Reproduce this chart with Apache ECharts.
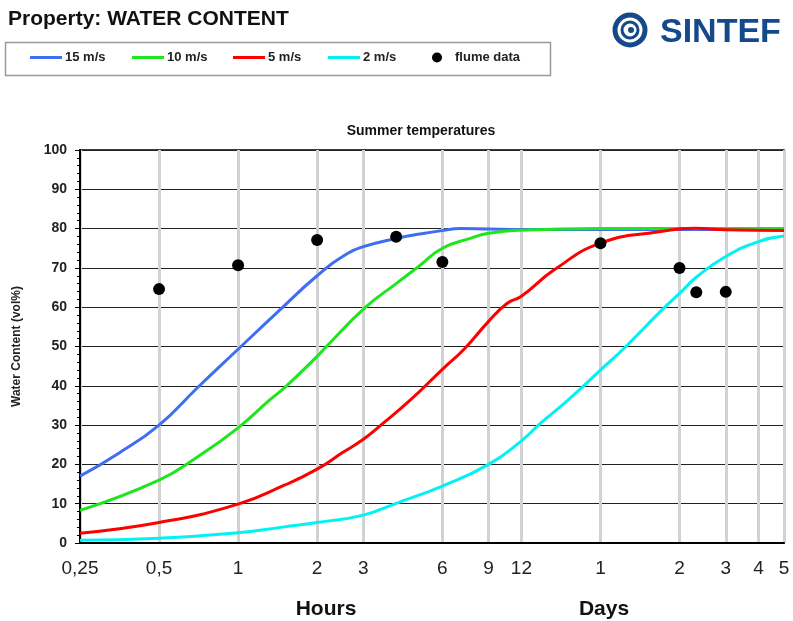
<!DOCTYPE html>
<html>
<head>
<meta charset="utf-8">
<script src="https://cdn.jsdelivr.net/npm/echarts@6/dist/echarts.min.js"></script>
<style>
  html, body { margin: 0; padding: 0; background: #fff; }
  #chart { width: 793px; height: 621px; }
</style>
</head>
<body>
<div id="chart"></div>
<script>
// x values are in hours, plotted on a log2 scale
let tickHours = [0.25, 0.5, 1, 2, 3, 6, 9, 12, 24, 48, 72, 96, 120];
let tickLabels = ['0,25', '0,5', '1', '2', '3', '6', '9', '12', '1', '2', '3', '4', '5'];

let hours15 = [0.25, 0.35, 0.5, 0.7, 1, 1.4, 2, 2.6, 3, 4, 5, 6, 7, 9, 12, 24, 48, 120];
let vals15 = [17, 22.8, 30, 39.5, 49.3, 58.5, 68, 73.6, 75.4, 77.5, 78.7, 79.5, 80, 79.9, 79.8, 79.8, 79.8, 79.8];

let hours10 = [0.25, 0.5, 0.7, 1, 1.32, 1.53, 2, 2.17, 3.06, 4, 4.9, 6, 7.66, 9, 12, 24, 120];
let vals10 = [8.3, 16, 21.9, 29.3, 36.4, 40, 47.5, 50, 60, 66, 70.5, 75, 77.5, 78.8, 79.6, 80, 80];

let hours5 = [0.25, 0.5, 1, 1.5, 2, 2.5, 3, 3.5, 4.5, 6, 7.3, 9, 10.6, 12, 16, 24, 40, 55, 72, 120];
let vals5 = [2.5, 5.2, 9.9, 14.7, 18.8, 23, 26.4, 30, 36.2, 44.2, 49.5, 56.4, 61, 62.8, 69.5, 76.3, 79.2, 80.1, 79.7, 79.5];

let hours2 = [0.25, 0.5, 1, 1.5, 2, 3, 4, 6, 9, 12, 14.2, 18, 24, 30, 40, 48, 56, 72, 96, 120];
let vals2 = [0.7, 1.2, 2.6, 4.1, 5.2, 7.1, 10.1, 14.5, 20, 26, 30.5, 36.3, 44, 50, 58.5, 63.5, 67.8, 72.9, 76.7, 78.1];

let flumeHours = [0.5, 1, 2, 4, 6, 24, 48, 55.6, 72];
let flumeVals = [64.6, 70.7, 77.1, 77.9, 71.5, 76.3, 70, 63.8, 63.9];

let font = 'Liberation Sans, Arial, sans-serif';
let colors = ['#3f6ef2', '#1ee61e', '#ff0000', '#00f2f2', '#000000'];

function toXY(hs, vs) {
    return hs.map((h, i) => [Math.log2(h), vs[i]]);
}
let tickPos = tickHours.map(h => Math.log2(h));

let myChart = echarts.init(document.getElementById('chart'), null, {renderer: 'canvas'});

function lineSeries(name, hs, vs, color) {
    return {
        name: name,
        type: 'line',
        data: toXY(hs, vs),
        smooth: 0.5,
        symbol: 'none',
        lineStyle: {color: color, width: 3},
        itemStyle: {color: color}
    };
}

function legendItem(name, left, icon) {
    let isDot = icon === 'circle';
    return {
        data: [name],
        left: left,
        top: 51,
        padding: 0,
        icon: icon,
        itemWidth: isDot ? 10 : 32,
        itemHeight: isDot ? 10 : 3,
        textStyle: {
            fontFamily: font, fontWeight: 'bold', fontSize: 13, color: '#222',
            padding: [0, 0, 0, isDot ? 8 : -2]
        }
    };
}

let option = {
    animation: false,
    backgroundColor: '#fff',
    color: colors,
    grid: {
        left: 80, right: 9, top: 150, bottom: 78,
        show: true, borderColor: '#000', borderWidth: 1.5
    },
    legend: [
        legendItem('15 m/s', 30, 'rect'),
        legendItem('10 m/s', 132, 'rect'),
        legendItem('5 m/s', 233, 'rect'),
        legendItem('2 m/s', 328, 'rect'),
        legendItem('flume data', 432, 'circle')
    ],
    xAxis: {
        type: 'value',
        min: Math.log2(0.25),
        max: Math.log2(120),
        axisLine: {show: true, onZero: false, lineStyle: {color: '#000', width: 2}},
        axisTick: {show: false, customValues: tickPos},
        axisLabel: {
            customValues: tickPos,
            margin: 16,
            fontFamily: font, fontSize: 19, color: '#222',
            formatter: function (v) {
                for (let i = 0; i < tickPos.length; i++) {
                    if (Math.abs(tickPos[i] - v) < 1e-6) return tickLabels[i];
                }
                return '';
            }
        },
        splitLine: {show: true, lineStyle: {color: '#d2d2d2', width: 3}}
    },
    yAxis: {
        type: 'value',
        min: 0, max: 100, interval: 10,
        name: 'Water Content (vol%)',
        nameLocation: 'middle',
        nameRotate: 90,
        nameGap: 57,
        nameTextStyle: {fontFamily: font, fontWeight: 'bold', fontSize: 12, color: '#222'},
        axisLine: {show: true, onZero: false, lineStyle: {color: '#000', width: 2}},
        axisTick: {show: true, length: 5, lineStyle: {color: '#000'}},
        minorTick: {show: true, splitNumber: 5, length: 3, lineStyle: {color: '#000'}},
        axisLabel: {margin: 13, fontFamily: font, fontWeight: 'bold', fontSize: 14, color: '#222'},
        splitLine: {lineStyle: {color: '#222', width: 1}}
    },
    graphic: [
        {type: 'text', left: 8, top: 9, style: {text: 'Property: WATER CONTENT', font: 'bold 21px ' + font, fill: '#111'}},
        {type: 'rect', left: 3, top: 40, shape: {width: 545, height: 33}, style: {fill: 'none', stroke: '#9a9a9a', lineWidth: 1.5}},
        {type: 'text', x: 421, y: 131, style: {text: 'Summer temperatures', font: 'bold 14px ' + font, fill: '#111', align: 'center', verticalAlign: 'middle'}},
        {type: 'text', x: 326, y: 609, style: {text: 'Hours', font: 'bold 21px ' + font, fill: '#111', align: 'center', verticalAlign: 'middle'}},
        {type: 'text', x: 604, y: 609, style: {text: 'Days', font: 'bold 21px ' + font, fill: '#111', align: 'center', verticalAlign: 'middle'}},
        // SINTEF logo
        {type: 'circle', shape: {cx: 630, cy: 30, r: 15}, style: {fill: 'none', stroke: '#14498a', lineWidth: 5}},
        {type: 'circle', shape: {cx: 630, cy: 30, r: 8}, style: {fill: 'none', stroke: '#14498a', lineWidth: 3}},
        {type: 'circle', shape: {cx: 631, cy: 30, r: 3}, style: {fill: '#14498a'}},
        {type: 'text', x: 660, y: 33, style: {text: 'SINTEF', font: 'bold 34px ' + font, fill: '#14498a', verticalAlign: 'middle'}}
    ],
    series: [
        lineSeries('15 m/s', hours15, vals15, colors[0]),
        lineSeries('10 m/s', hours10, vals10, colors[1]),
        lineSeries('5 m/s', hours5, vals5, colors[2]),
        lineSeries('2 m/s', hours2, vals2, colors[3]),
        {
            name: 'flume data',
            type: 'scatter',
            data: toXY(flumeHours, flumeVals),
            symbol: 'circle',
            symbolSize: 12,
            itemStyle: {color: '#000', opacity: 1},
            z: 5
        }
    ]
};
myChart.setOption(option);
</script>
</body>
</html>
